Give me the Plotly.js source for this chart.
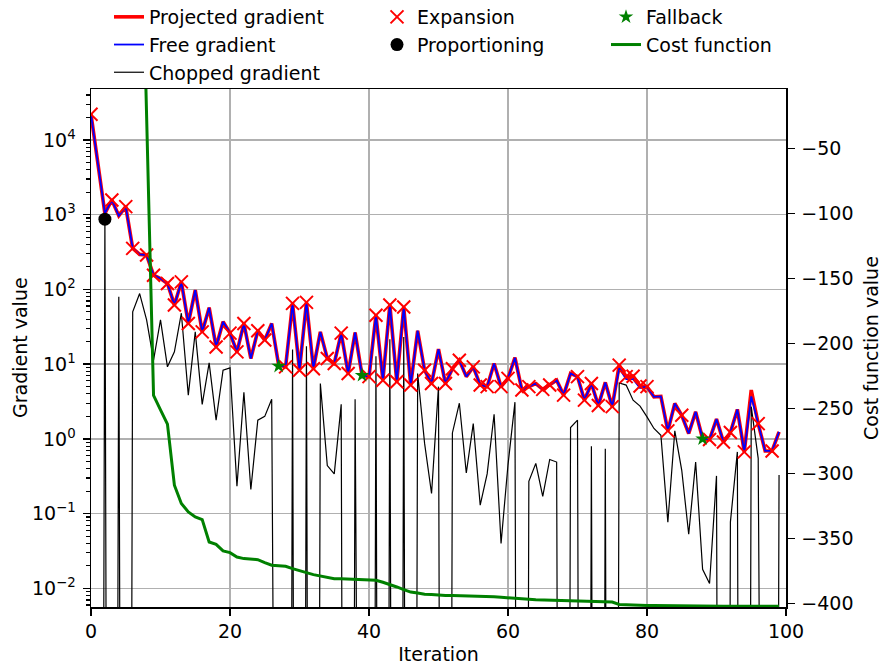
<!DOCTYPE html>
<html>
<head>
<meta charset="utf-8">
<script src="https://cdn.plot.ly/plotly-3.0.1.min.js"></script>
<style>html,body{margin:0;padding:0;background:#fff;}#chart{width:882px;height:666px;}</style>
</head>
<body>
<div id="chart"></div>
<script>
// ---------- data ----------
const iterations = Array.from({length: 100}, (_, i) => i);

const projectedGradient = [
  22000, 4500, 1040, 1570, 970, 1280, 354, 294, 288, 155,
  140, 120, 62, 126, 35, 98, 27, 57, 17, 37,
  26, 14.6, 35, 11.9, 28, 21, 35, 9.7, 9.2, 65,
  8.3, 67, 8.7, 27, 11.9, 10.2, 26, 7.5, 26.5, 7.1,
  6.8, 45, 6.1, 62, 5.8, 58, 5.25, 28, 8.3, 5.5,
  15.9, 5.5, 8.7, 11.3, 6.8, 9.2, 5.25, 5.0, 10.2, 5.0,
  6.45, 12.2, 4.5, 5.0, 5.5, 4.6, 5.25, 6.1, 3.85, 7.5,
  6.8, 3.3, 5.5, 2.8, 5.7, 2.7, 9.7, 6.8, 6.9, 5.1,
  5.0, 3.65, 3.7, 1.28, 2.98, 2.07, 1.18, 2.3, 1.01, 0.98,
  1.84, 0.91, 1.22, 2.48, 0.67, 4.5, 1.6, 0.69, 0.69, 1.24
];

const freeGradient = [
  22000, 4500, 1040, 1570, 970, 1280, 354, 294, 288, 155,
  140, 120, 62, 126, 35, 98, 27, 57, 17, 37,
  26, 14.6, 35, 11.9, 28, 21, 35, 9.7, 9.2, 65,
  8.3, 67, 8.7, 27, 11.9, 10.2, 26, 7.5, 26.5, 7.1,
  6.8, 45, 6.1, 62, 5.8, 58, 5.25, 28, 8.3, 5.5,
  15.9, 5.5, 8.7, 11.3, 6.8, 9.2, 5.25, 5.0, 10.2, 5.0,
  6.45, 12.2, 4.5, 5.0, 5.5, 4.6, 5.25, 6.1, 3.85, 7.5,
  6.8, 3.3, 5.5, 2.8, 5.7, 2.7, 8.8, 6.3, 6.3, 4.8,
  5.0, 3.65, 3.7, 1.28, 2.98, 2.07, 1.18, 2.3, 1.01, 0.98,
  1.84, 0.91, 1.22, 2.48, 0.67, 3.7, 1.6, 0.69, 0.69, 1.24
];

const choppedGradient = [
  0, 0, 870, 0, 80, 0, 50, 88, 39, 11.3,
  39, 9.2, 14.6, 48, 3.85, 27, 2.9, 10.4, 1.78, 8.3,
  8.9, 0.233, 4.2, 0.21, 1.78, 2.0, 3.4, 0, 0, 15.7,
  0, 17.4, 0, 5.5, 0.44, 0.34, 2.9, 0, 3.4, 0,
  0, 12.8, 0, 21.5, 0, 23, 0, 7.5, 0.87, 0.186,
  5.0, 0, 1.2, 3.0, 0.35, 1.6, 0.13, 0.34, 2.14, 0.04,
  0.45, 3.1, 0, 0.27, 0.47, 0.17, 0.53, 0.49, 0, 1.42,
  1.78, 0, 0.8, 0, 0.74, 0, 5.6, 5.25, 3.3, 2.74,
  1.97, 1.38, 1.12, 0.077, 1.28, 0.38, 0.053, 0.49, 0.018, 0.0116,
  0.32, 0, 0.077, 0.67, 0, 2.7, 0.55, 0, 0, 0.33
];

const costFunction = [
  1500, 1100, 800, 600, 450, 340, 260, 190, -26, -240,
  -251, -262, -309, -323, -329.5, -333.4, -335.4, -352.6, -354.4, -359.5,
  -360.8, -364.2, -365.4, -365.9, -366.2, -368.5, -370.5, -370.9, -371.3, -373.1,
  -374.9, -376.2, -377.7, -378.8, -379.8, -380.8, -380.8, -381, -381.3, -381.6,
  -381.6, -382, -383.6, -385.2, -387.2, -389.2, -391.1, -391.8, -392.8, -393,
  -393.6, -393.7, -393.8, -393.9, -394, -394.1, -394.3, -394.5, -394.8, -395.2,
  -395.7, -396, -396.5, -396.7, -397, -397.2, -397.5, -397.7, -397.8, -397.9,
  -398, -398.2, -398.4, -398.5, -398.6, -398.8, -400.6, -400.9, -401.1, -401.3,
  -401.4, -401.5, -401.6, -401.7, -401.7, -401.8, -401.9, -401.9, -401.9, -401.9,
  -402, -402, -402, -402, -402, -402, -402, -402, -402, -402
];

const expansionIters = [0, 3, 5, 6, 8, 9, 11, 12, 13, 14, 16, 18, 20, 21, 22, 24, 25, 28, 29, 30,
  31, 32, 34, 35, 36, 37, 40, 41, 42, 43, 44, 45, 46, 48, 49, 51, 52, 53, 55, 56,
  57, 59, 60, 62, 63, 65, 66, 68, 70, 71, 72, 73, 75, 76, 77, 78, 79, 80, 83, 85,
  89, 91, 92, 94, 96, 98];

const proportioningIters = [2];
const proportioningValues = [870];

const fallbackIters = [27, 39, 88];
const fallbackValues = [9.4, 7.1, 1.0];

const xTickVals = [0, 20, 40, 60, 80, 100];
const yTickVals = [0.01, 0.1, 1, 10, 100, 1000, 10000];
const yTickText = ['10<sup>\u22122</sup>', '10<sup>\u22121</sup>', '10<sup>0</sup>', '10<sup>1</sup>',
                   '10<sup>2</sup>', '10<sup>3</sup>', '10<sup>4</sup>'];
const y2TickVals = [-400, -350, -300, -250, -200, -150, -100, -50];

const xTitle = 'Iteration';
const yTitle = 'Gradient value';
const y2Title = 'Cost function value';

// ---------- derived ----------
const LOG_FLOOR = 1e-30; // zero values on a log axis drop off the bottom
const choppedPlot = choppedGradient.map(v => (v > 0 ? v : LOG_FLOOR));
const minorVals = [];
for (let e = -3; e <= 4; e++) for (let m = 2; m <= 9; m++) minorVals.push(m * Math.pow(10, e));

const traces = [
  {x: iterations, y: projectedGradient, type: 'scatter', mode: 'lines', name: 'Projected gradient',
   line: {color: '#ff0000', width: 3.6}, legend: 'legend'},
  {x: iterations, y: freeGradient, type: 'scatter', mode: 'lines', name: 'Free gradient',
   line: {color: '#0000ff', width: 1.8}, legend: 'legend'},
  {x: iterations, y: choppedPlot, type: 'scatter', mode: 'lines', name: 'Chopped gradient',
   line: {color: '#000000', width: 1.2}, legend: 'legend'},
  {x: expansionIters, y: expansionIters.map(i => projectedGradient[i]), type: 'scatter', mode: 'markers',
   name: 'Expansion', marker: {symbol: 'x-thin', size: 13, color: '#ff0000', line: {color: '#ff0000', width: 2}},
   legend: 'legend2'},
  {x: proportioningIters, y: proportioningValues, type: 'scatter', mode: 'markers', name: 'Proportioning',
   marker: {symbol: 'circle', size: 13, color: '#000000'}, legend: 'legend2'},
  {x: fallbackIters, y: fallbackValues, type: 'scatter', mode: 'markers', name: 'Fallback',
   marker: {symbol: 'star', size: 11, color: '#008000'}, legend: 'legend3'},
  {x: iterations, y: costFunction, type: 'scatter', mode: 'lines', name: 'Cost function', yaxis: 'y2',
   line: {color: '#008000', width: 3}, legend: 'legend3'}
];

const axisCommon = {
  ticks: 'outside', ticklen: 7, tickwidth: 1.5, tickcolor: '#000',
  showline: true, linecolor: '#000', linewidth: 1.5, zeroline: false,
  tickfont: {family: 'DejaVu Sans', size: 19, color: '#000'}, automargin: false
};

const legendCommon = {
  xref: 'container', yref: 'paper', xanchor: 'left', yanchor: 'top', y: 1.1757,
  orientation: 'v', bgcolor: 'rgba(0,0,0,0)', borderwidth: 0, tracegroupgap: 0,
  font: {family: 'DejaVu Sans', size: 19, color: '#000'}
};

const titleFont = {family: 'DejaVu Sans', size: 19, color: '#000'};

const layout = {
  width: 882, height: 666,
  margin: {l: 91, r: 96, t: 89, b: 59, pad: 0, autoexpand: false},
  paper_bgcolor: '#fff', plot_bgcolor: '#fff',
  font: {family: 'DejaVu Sans', size: 19, color: '#000'},
  showlegend: true,
  xaxis: Object.assign({}, axisCommon, {
    range: [0, 100], tickmode: 'array', tickvals: xTickVals, mirror: true,
    showgrid: true, gridcolor: '#b0b0b0', gridwidth: 1.5,
    title: {text: xTitle, standoff: 6, font: titleFont}
  }),
  yaxis: Object.assign({}, axisCommon, {
    type: 'log', range: [-2.249, 4.681], tickmode: 'array', tickvals: yTickVals, ticktext: yTickText,
    showgrid: true, gridcolor: '#b0b0b0', gridwidth: 1.5, mirror: true, ticklabelstandoff: 3,
    minor: {tickmode: 'array', tickvals: minorVals, ticks: 'outside', ticklen: 4, tickwidth: 1.2,
            tickcolor: '#000', showgrid: false}
  }),
  yaxis2: Object.assign({}, axisCommon, {
    overlaying: 'y', side: 'right', range: [-402.6, -4.4], tickmode: 'array', tickvals: y2TickVals,
    showgrid: false, ticklabelstandoff: 3
  }),
  annotations: [
    {text: yTitle, xref: 'paper', yref: 'paper', x: (20 - 91) / 695, y: 0.5, xanchor: 'center', yanchor: 'middle',
     textangle: -90, showarrow: false, font: titleFont},
    {text: y2Title, xref: 'paper', yref: 'paper', x: (871 - 91) / 695, y: 0.5, xanchor: 'center', yanchor: 'middle',
     textangle: -90, showarrow: false, font: titleFont}
  ],
  legend: Object.assign({}, legendCommon, {x: 109 / 882}),
  legend2: Object.assign({}, legendCommon, {x: 377 / 882}),
  legend3: Object.assign({}, legendCommon, {x: 606 / 882})
};

Plotly.newPlot('chart', traces, layout, {staticPlot: true, displayModeBar: false});
</script>
</body>
</html>
